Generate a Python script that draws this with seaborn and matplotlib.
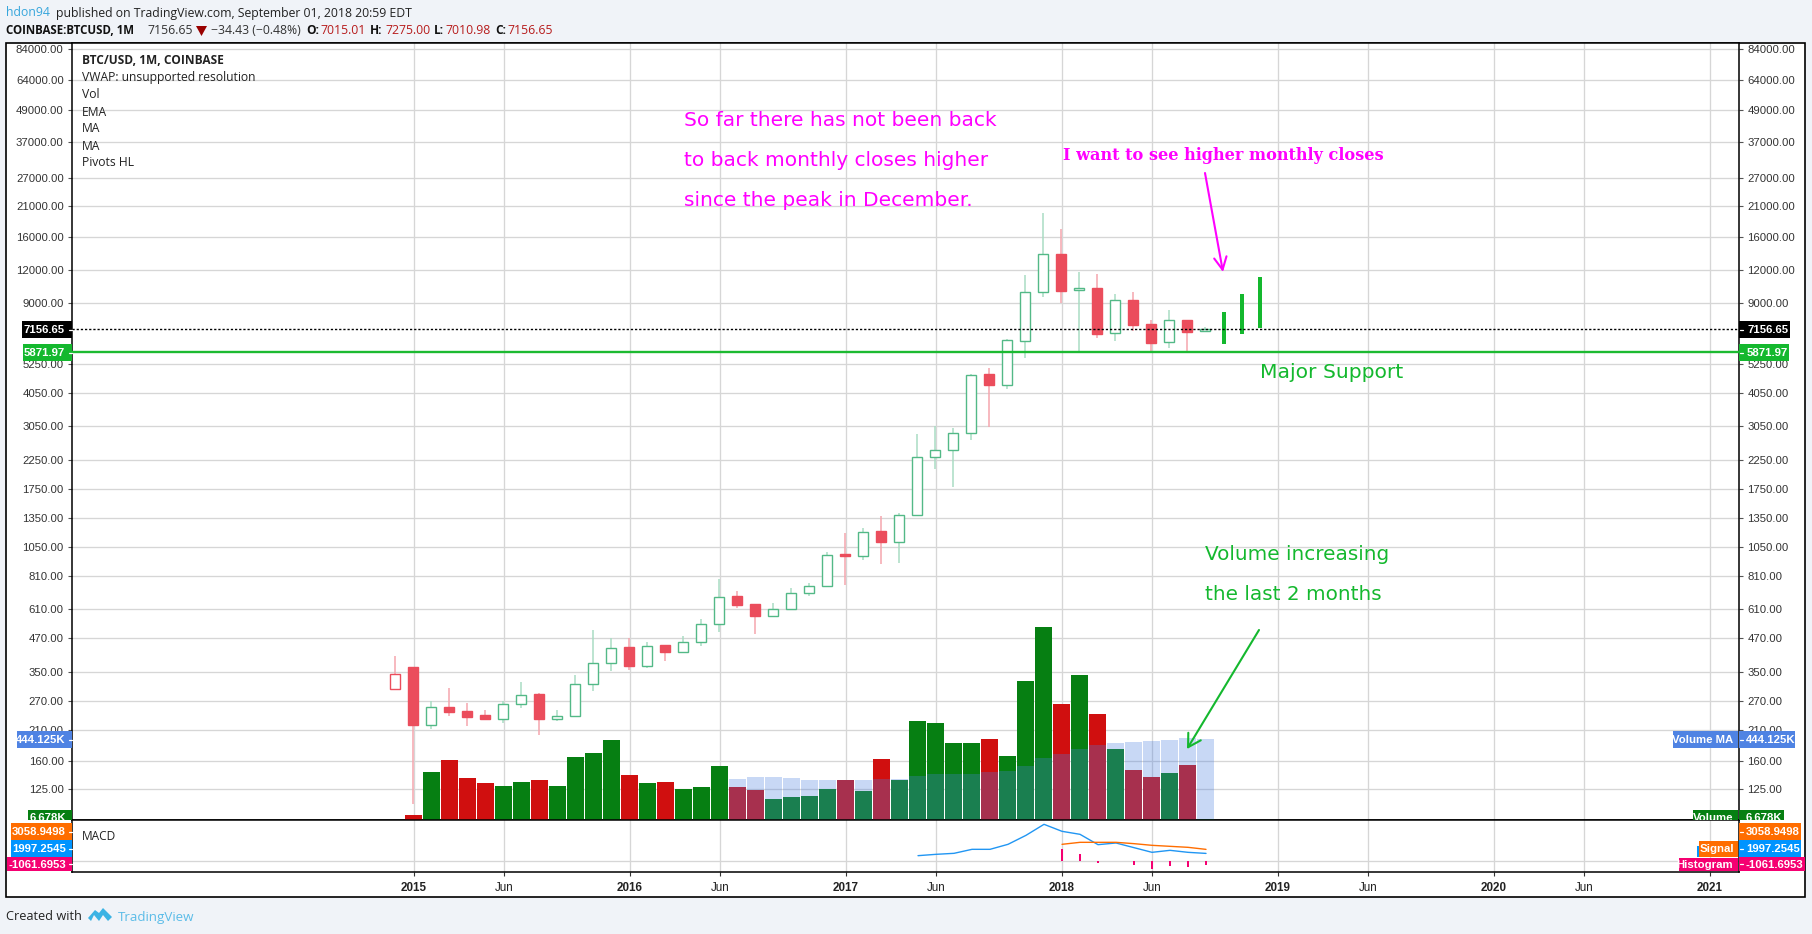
import numpy as np
import pandas as pd
import matplotlib
matplotlib.use("Agg")
import matplotlib.pyplot as plt
from matplotlib.patches import Rectangle, Polygon
from matplotlib.transforms import IdentityTransform
import seaborn as sns

W, H = 1812, 934

# monthly candles, month 0 = Jan 2015
months = list(range(-1, 45))
opens = [300, 364, 219, 257, 247, 238, 231, 263, 287, 231, 237, 314, 379, 433, 368, 441, 416, 455, 532, 679,
         632, 571, 608, 701, 745, 982, 968, 1203, 1094, 1390, 2318, 2465, 2867, 4794, 4376, 6407, 9862, 13822,
         10037, 10245, 6875, 9218, 7441, 6351, 7730, 7015.01]
highs = [400, 364, 270, 302, 265, 249, 270, 319, 290, 249, 339, 504, 472, 472, 453, 443, 477, 555, 789, 710,
         633, 638, 729, 762, 1001, 1183, 1236, 1373, 1409, 2826, 3033, 2980, 4822, 5054, 6520, 11490, 19827, 17223,
         11797, 11590, 9718, 9891, 7730, 8442, 7730, 7275]
lows = [300, 109, 211, 237, 217, 228, 222, 253, 200, 226, 237, 294, 351, 354, 362, 383, 414, 437, 498, 611,
        486, 570, 607, 680, 744, 747, 933, 900, 908, 1388, 2076, 1773, 2689, 3004, 4203, 5530, 9493, 8978,
        5833, 6618, 6447, 7038, 5833, 6059, 5867, 7010.98]
closes = [342, 219, 257, 245, 235, 230, 264, 286, 230, 237, 315, 379, 432, 367, 440, 415, 456, 534, 677, 627,
          570, 609, 702, 746, 980, 966, 1200, 1092, 1393, 2322, 2469, 2867, 4778, 4363, 6503, 9862, 13780, 10007,
          10215, 6855, 9191, 7419, 6332, 7707, 6976, 7156.65]

# hand drawn projection bars on the chart
proj_months = [45, 46, 47]
proj_low = [6259, 6814, 7206]
proj_high = [8268, 9690, 11255]

# volume in thousands, month 0 onwards
vol_months = list(range(0, 45))
volume = [27, 263, 329, 230, 203, 186, 208, 219, 186, 345, 367, 439, 247, 203, 208, 170, 181, 296, 181, 164,
          115, 126, 132, 170, 219, 159, 334, 219, 543, 532, 422, 422, 444, 351, 762, 1058, 636, 795, 581, 389,
          274, 236, 258, 302, 6.678]
ma_months = list(range(18, 45))
volume_ma = [225, 236, 236, 230, 219, 219, 219, 219, 225, 225, 241, 252, 252, 252, 263, 269, 296, 340, 362, 389,
             411, 422, 428, 433, 439, 447, 444.125]

# MACD pane
macd_months = list(range(28, 45))
macd = [1403, 1754, 2017, 3070, 3070, 4385, 6753, 9647, 7805, 7016, 4297, 4736, 3508, 2280, 2806, 2280, 1997.25]
signal_months = list(range(36, 45))
signal = [4385, 4911, 4911, 4911, 4560, 4122, 3859, 3596, 3058.95]
hist_months = [36, 37, 38, 40, 41, 42, 43, 44]
hist = [3245, 1842, -600, -1052, -2017, -1228, -1579, -1061.7]

price_ticks = [84000, 64000, 49000, 37000, 27000, 21000, 16000, 12000, 9000, 5250, 4050, 3050, 2250, 1750, 1350,
               1050, 810, 610, 470, 350, 270, 210, 160, 125]
last_price = 7156.65
support = 5850
time_ticks = [0, 5, 12, 17, 24, 29, 36, 41, 48, 53, 60, 65, 72]
time_labels = ["2015", "Jun", "2016", "Jun", "2017", "Jun", "2018", "Jun", "2019", "Jun", "2020", "Jun", "2021"]

GREEN_EDGE = "#53B987"
GREEN_WICK = "#A9DCC3"
RED_BODY = "#EB4D5C"
RED_WICK = "#F5A6AE"
GRID = "#D6D6D6"
MAGENTA = "#FF00FF"
ANNO_GREEN = "#14B82E"
SHIFT = -0.04  # candles sit a touch left of the gridlines

sns.set_theme(style="white")
plt.rcParams["font.family"] = ["Liberation Sans", "DejaVu Sans"]


def rect(l, t, r, b):
    return [l / W, 1 - b / H, (r - l) / W, (b - t) / H]


fig = plt.figure(figsize=(W / 100, H / 100), dpi=100, facecolor="#F0F3F8")

ov = fig.add_axes([0, 0, 1, 1], zorder=10)
ov.set_xlim(0, W)
ov.set_ylim(H, 0)
ov.set_axis_off()
# white card behind everything
fig.add_artist(Rectangle((6 / W, 1 - 897 / H), 1799 / W, 854 / H, transform=fig.transFigure,
                         facecolor="white", edgecolor="black", linewidth=1.2, zorder=-5))

ax = fig.add_axes(rect(72, 43, 1739, 820), zorder=1)
ax.set_yscale("log")
ax.set_xlim(-19.0, 73.61)
ax.set_ylim(94.8, 88555)
ax.minorticks_off()
ax.set_yticks(price_ticks, [f"{t:.2f}" for t in price_ticks])
ax.set_xticks(time_ticks, [""] * len(time_ticks))
ax.tick_params(axis="x", length=0)
ax.grid(True, color=GRID, linewidth=0.95)
ax.set_axisbelow(True)
for s in ax.spines.values():
    s.set_color("black")
    s.set_linewidth(1.1)

df = pd.DataFrame({"month": months, "open": opens, "high": highs, "low": lows, "close": closes})
df["up"] = df["close"] >= df["open"]
wick_colors = [GREEN_WICK if u else RED_WICK for u in df["up"]]
wick_colors[0] = RED_WICK
edge_colors = [GREEN_EDGE if u else RED_BODY for u in df["up"]]
edge_colors[0] = RED_BODY
face_colors = ["white" if u else RED_BODY for u in df["up"]]
ax.vlines(df["month"] + SHIFT, df["low"], df["high"], colors=wick_colors, linewidth=1.1, zorder=3)
body_low = df[["open", "close"]].min(axis=1)
body_high = df[["open", "close"]].max(axis=1)
ax.bar(df["month"] + SHIFT, body_high - body_low, bottom=body_low, width=0.54, color=face_colors,
       edgecolor=edge_colors, linewidth=1.0, zorder=4)

ax.bar(proj_months, np.array(proj_high) - np.array(proj_low), bottom=proj_low, width=0.22,
       color=ANNO_GREEN, linewidth=0, zorder=5)
ax.axhline(last_price, color="black", linewidth=1.0, linestyle=(0, (1.6, 1.4)), zorder=5)
ax.axhline(support, color="#1CBA31", linewidth=1.7, zorder=5)

# volume shares the time axis
ax_vol = ax.twinx()
vdf = pd.DataFrame({"month": np.array(vol_months) + SHIFT, "volume": volume})
vdf["dir"] = ["up" if c >= o else "down" for o, c in zip(opens[1:], closes[1:])]
sns.barplot(data=vdf, x="month", y="volume", hue="dir", palette={"up": "#067F12", "down": "#D00F0F"},
            native_scale=True, dodge=False, width=0.95, saturation=1, legend=False, linewidth=0, ax=ax_vol)
mdf = pd.DataFrame({"month": np.array(ma_months) + SHIFT, "ma": volume_ma})
sns.barplot(data=mdf, x="month", y="ma", color="#4A7FE0", alpha=0.3, native_scale=True, width=0.95,
            saturation=1, linewidth=0, ax=ax_vol)
ax_vol.set_xlim(-19.0, 73.61)
ax_vol.set_ylim(0, 4260)
ax_vol.set_axis_off()
ax.set_xlim(-19.0, 73.61)
# twinx pushes the price labels to one side, so ask for both here
ax.tick_params(axis="y", which="both", left=True, right=True, labelleft=True, labelright=True, length=3,
               width=0.8, color="#555555", labelsize=8.2, labelcolor="#333333", pad=3)

# MACD pane
ax_m = fig.add_axes(rect(72, 820, 1739, 872), zorder=2)
ax_m.set_xlim(-19.0, 73.61)
ax_m.set_ylim(-2893, 10783)
ax_m.bar(hist_months, hist, width=0.09, color="#F50071", linewidth=0, zorder=3)
sns.lineplot(x=macd_months, y=macd, color="#2196F3", linewidth=1.0, ax=ax_m, zorder=4)
sns.lineplot(x=signal_months, y=signal, color="#FF6D00", linewidth=1.0, ax=ax_m, zorder=4)
ax_m.set_yticks([0], [""])
ax_m.set_xticks(time_ticks, time_labels)
ax_m.set_xlabel("")
ax_m.set_ylabel("")
ax_m.grid(True, color=GRID, linewidth=0.95)
ax_m.set_axisbelow(True)
ax_m.tick_params(axis="x", bottom=True, length=3, width=0.8, color="#333333", labelsize=8.4,
                 labelcolor="#222222", pad=4)
ax_m.tick_params(axis="y", length=0)
for lab, txt in zip(ax_m.get_xticklabels(), time_labels):
    if txt != "Jun":
        lab.set_fontweight("bold")
for s in ax_m.spines.values():
    s.set_color("black")
    s.set_linewidth(1.1)

badge_z = [3]


def badge(l, t, r, b, color, text=None, align="right", tx=None, clip=None, tick=None):
    # later badges cover earlier ones, text included
    badge_z[0] += 1
    z = badge_z[0]
    ov.add_patch(Rectangle((l, t), r - l, b - t, facecolor=color, edgecolor="none", zorder=z))
    if text is not None:
        t_ = ov.text(tx, (t + b) / 2 + 0.5 if clip is None else clip, text, color="white", fontsize=8.2,
                     fontweight="bold", ha=align, va="center", family="Liberation Sans", zorder=z)
        if clip is not None:
            t_.set_clip_path(Rectangle((0, H - 820), W, 820, transform=IdentityTransform()))
            t_.set_clip_on(True)
    if tick is not None:
        ov.plot(tick, [(t + b) / 2] * 2, color="white", linewidth=0.9, zorder=z)


# price labels on both sides
badge(22, 321, 72, 338, "black", "7156.65", "right", 65, tick=(69, 72))
badge(1739, 321, 1790, 338, "black", "7156.65", "left", 1747, tick=(1740, 1743))
badge(23, 344, 72, 361, ANNO_GREEN, "5871.97", "right", 65, tick=(69, 72))
badge(1739, 344, 1789, 361, ANNO_GREEN, "5871.97", "left", 1747, tick=(1740, 1743))
# volume labels
badge(17, 731, 72, 748, "#4F83E3", "444.125K", "right", 66, tick=(69, 72))
badge(1739, 731, 1795, 748, "#4F83E3", "444.125K", "left", 1746, tick=(1740, 1743))
badge(1673, 731, 1738, 748, "#4F83E3", "Volume MA", "right", 1733)
badge(28, 810, 72, 820, "#067F12", "6.678K", "right", 66, clip=818)
badge(1739, 810, 1784, 820, "#067F12", "6.678K", "left", 1746, clip=818)
badge(1693, 810, 1738, 820, "#067F12", "Volume", "right", 1733, clip=818)
# MACD labels
badge(11, 823, 72, 840, "#FF6D00", "3058.9498", "right", 66, tick=(69, 72))
badge(1739, 823, 1801, 840, "#FF6D00", "3058.9498", "left", 1746, tick=(1740, 1743))
badge(11, 840, 72, 857, "#0094FF", "1997.2545", "right", 66, tick=(69, 72))
badge(1739, 840, 1801, 857, "#0094FF", "1997.2545", "left", 1746, tick=(1740, 1743))
badge(7, 857, 72, 871, "#F50071", "-1061.6953", "right", 66, tick=(69, 72))
badge(1739, 857, 1805, 871, "#F50071", "-1061.6953", "left", 1746, tick=(1740, 1743))
badge(1697, 846, 1738, 857, "#0094FF", "MACD", "right", 1733)
badge(1699, 841, 1738, 857, "#FF6D00", "Signal", "right", 1734)
badge(1679, 858, 1738, 871, "#F50071", "Histogram", "right", 1733)

# header
UI = "Open Sans"
ov.text(6, 13, "hdon94", color="#37A6DC", fontsize=8.8, family=UI, va="center")
ov.text(56, 13, "published on TradingView.com, September 01, 2018 20:59 EDT", color="#222222",
        fontsize=8.8, family=UI, va="center")
ov.text(6, 30, "COINBASE:BTCUSD, 1M", color="#111111", fontsize=8.3, fontweight="bold", family=UI, va="center")
ov.text(147, 30, "7156.65", color="#333333", fontsize=8.8, family=UI, va="center")
ov.add_patch(Polygon([(196, 26), (207, 26), (201.5, 36)], facecolor="#990000", edgecolor="none"))
ov.text(211, 30, "\u221234.43 (\u22120.48%)", color="#333333", fontsize=8.8, family=UI, va="center")
for x, s in [(306, "O:"), (370, "H:"), (434, "L:"), (495, "C:")]:
    ov.text(x, 30, s, color="#111111", fontsize=8.6, fontweight="bold", family=UI, va="center")
for x, s in [(320, "7015.01"), (385, "7275.00"), (445.5, "7010.98"), (507, "7156.65")]:
    ov.text(x, 30, s, color="#B71C1C", fontsize=8.8, family=UI, va="center")

# pane legend
ov.text(82, 61, "BTC/USD, 1M, COINBASE", color="#222222", fontsize=8.6, fontweight="bold", family=UI, va="center")
for y, s in zip([77, 95, 112, 129, 146, 163], ["VWAP: unsupported resolution", "Vol", "EMA", "MA", "MA", "Pivots HL"]):
    ov.text(82, y, s, color="#222222", fontsize=8.7, family=UI, va="center")
ov.text(82, 837, "MACD", color="#222222", fontsize=8.6, family=UI, va="center")

# drawn annotations
for y, s in zip([120, 161, 200], ["So far there has not been back", "to back monthly closes higher",
                                  "since the peak in December."]):
    ov.text(684, y, s, color=MAGENTA, fontsize=14.5, family="DejaVu Sans", va="center")
ov.text(1063, 155, "I want to see higher monthly closes", color=MAGENTA, fontsize=11.6, fontweight="bold",
        family="DejaVu Serif", va="center")
ov.text(1260, 373, "Major Support", color=ANNO_GREEN, fontsize=14.6, family="DejaVu Sans", va="center")
ov.text(1205, 555, "Volume increasing", color=ANNO_GREEN, fontsize=14.4, family="DejaVu Sans", va="center")
ov.text(1205, 595, "the last 2 months", color=ANNO_GREEN, fontsize=14.4, family="DejaVu Sans", va="center")
ov.annotate("", xy=(1223, 272), xytext=(1205, 173),
            arrowprops=dict(arrowstyle="->,head_length=0.6,head_width=0.3", color=MAGENTA, lw=1.5,
                            shrinkA=0, shrinkB=0, mutation_scale=15))
ov.annotate("", xy=(1187, 749), xytext=(1259, 630),
            arrowprops=dict(arrowstyle="->,head_length=0.6,head_width=0.35", color=ANNO_GREEN, lw=1.5,
                            shrinkA=0, shrinkB=0, mutation_scale=15))

# footer
ov.text(6, 917, "Created with", color="#222222", fontsize=9.2, family=UI, va="center")
ov.add_patch(Polygon([(88, 918), (95, 910), (99, 913), (103, 908), (112, 917), (108, 921), (103, 915), (99, 921),
                      (94, 915), (91, 921)], facecolor="#3BB3E4", edgecolor="none"))
ov.text(118, 917, "TradingView", color="#5BBCE8", fontsize=9.6, family=UI, va="center")

fig.savefig("out.png", dpi=100, facecolor=fig.get_facecolor())
